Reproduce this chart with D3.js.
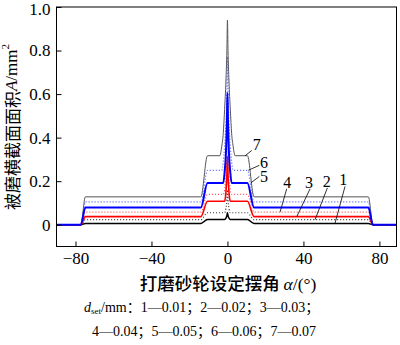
<!DOCTYPE html>
<html>
<head>
<meta charset="utf-8">
<script src="https://cdn.jsdelivr.net/npm/d3@7"></script>
<style>
  html, body { margin: 0; padding: 0; background: #fff; }
  svg { display: block; }
</style>
</head>
<body>
<svg id="chart" width="400" height="345"></svg>
<script>
// Swing angle α (°) at which each profile is sampled
const alpha = [-90, -77.2, -74.8, -14, -10.5, -4, -3, -2.2, -1.5, -0.8, -0.3, 0,
               0.3, 0.8, 1.5, 2.2, 3, 4, 10.5, 14, 74.2, 76.6, 89];

// Ground cross-section area A (mm²) for each set depth d_set
const area1 = [0, 0, .006, .006, .024, .024, .024, .024, .024, .030, .042, .055, .042, .030, .024, .024, .024, .024, .024, .006, .006, 0, 0];
const area2 = [0, 0, .023, .023, .055, .055, .055, .055, .055, .075, .115, .160, .115, .075, .055, .055, .055, .055, .055, .023, .023, 0, 0];
const area3 = [0, 0, .037, .037, .108, .108, .108, .108, .108, .150, .230, .314, .230, .150, .108, .108, .108, .108, .108, .037, .037, 0, 0];
const area4 = [0, 0, .058, .058, .139, .139, .139, .139, .160, .230, .340, .450, .340, .230, .160, .139, .139, .139, .139, .058, .058, 0, 0];
const area5 = [0, 0, .079, .079, .192, .192, .192, .192, .240, .330, .470, .605, .470, .330, .240, .192, .192, .192, .192, .079, .079, 0, 0];
const area6 = [0, 0, .105, .105, .250, .250, .250, .290, .360, .470, .620, .770, .620, .470, .360, .290, .250, .250, .250, .105, .105, 0, 0];
const area7 = [0, 0, .128, .128, .317, .317, .360, .420, .530, .660, .800, .940, .800, .660, .530, .420, .360, .317, .317, .128, .128, 0, 0];

const seriesIds = ["1", "2", "3", "4", "5", "6", "7"];
const seriesValues = [area1, area2, area3, area4, area5, area6, area7];

// Axis ticks
const xTicks = [-80, -40, 0, 40, 80];
const xTickLabels = ["\u221280", "\u221240", "0", "40", "80"];
const yTicks = [0, 0.2, 0.4, 0.6, 0.8, 1.0];
const yTickLabels = ["0", "0.2", "0.4", "0.6", "0.8", "1.0"];

// Curve number callouts: text position and leader line (data units)
const calloutText = [[61, 0.207], [52.3, 0.199], [42.9, 0.195], [31.5, 0.192], [19.3, 0.220], [19.3, 0.286], [15.4, 0.368]];
const calloutFrom = [[61.9, 0.176], [52.6, 0.169], [43.5, 0.165], [31.2, 0.165], [16.8, 0.222], [16.8, 0.273], [12.8, 0.341]];
const calloutTo   = [[56.6, 0.006], [46.1, 0.023], [36.5, 0.037], [27.7, 0.058], [12.3, 0.192], [11.0, 0.250], [9.3, 0.317]];

const style = {
  "1": { stroke: "#000000", width: 1.5, dash: null },
  "2": { stroke: "#333333", width: 1.2, dash: "1,2" },
  "3": { stroke: "#ff0000", width: 1.6, dash: null },
  "4": { stroke: "#ff5050", width: 1.2, dash: "1,2" },
  "5": { stroke: "#0000ff", width: 2.0, dash: null },
  "6": { stroke: "#4a5cff", width: 1.2, dash: "1,2" },
  "7": { stroke: "#555555", width: 1.0, dash: null }
};
const drawOrder = ["7", "6", "2", "4", "1", "3", "5"];

const serif = "'Liberation Serif', 'Times New Roman', serif";
const cjk = "'Noto Sans CJK SC', sans-serif";

const svg = d3.select("#chart");
const x = d3.scaleLinear().domain([-90, 89]).range([56.5, 396.5]);
const y = d3.scaleLinear().domain([-0.1, 1.0]).range([246.5, 7]);

// Curves
const line = d3.line()
  .x(d => x(d[0]))
  .y(d => y(d[1]))
  .curve(d3.curveMonotoneX);

const curves = svg.append("g");
drawOrder.forEach(id => {
  const i = seriesIds.indexOf(id);
  const pts = alpha.map((a, k) => [a, seriesValues[i][k]]);
  const s = style[id];
  curves.append("path")
    .attr("d", line(pts))
    .attr("fill", "none")
    .attr("stroke", s.stroke)
    .attr("stroke-width", s.width)
    .attr("stroke-dasharray", s.dash);
});

// Frame
svg.append("rect")
  .attr("x", x(-90)).attr("y", y(1.0))
  .attr("width", x(89) - x(-90)).attr("height", y(-0.1) - y(1.0))
  .attr("fill", "none").attr("stroke", "#000").attr("stroke-width", 1);

// Axes with inward ticks
const xAxis = d3.axisBottom(x).tickValues(xTicks)
  .tickFormat((d, i) => xTickLabels[i]).tickSize(-5).tickPadding(5);
const yAxis = d3.axisLeft(y).tickValues(yTicks)
  .tickFormat((d, i) => yTickLabels[i]).tickSize(-5).tickPadding(6);

const gx = svg.append("g").attr("transform", `translate(0,${y(-0.1)})`).call(xAxis);
const gy = svg.append("g").attr("transform", `translate(${x(-90)},0)`).call(yAxis);
[gx, gy].forEach(g => {
  g.select(".domain").remove();
  g.selectAll(".tick line").attr("stroke", "#000");
  g.selectAll(".tick text").attr("fill", "#000")
    .style("font-family", serif).style("font-size", "17px");
});
// keep the top label inside the canvas
gy.selectAll(".tick text").filter(d => d === 1.0).attr("dy", "0.36em").attr("y", 1);

// Callouts
const callouts = svg.append("g");
seriesIds.forEach((id, i) => {
  callouts.append("line")
    .attr("x1", x(calloutFrom[i][0])).attr("y1", y(calloutFrom[i][1]))
    .attr("x2", x(calloutTo[i][0])).attr("y2", y(calloutTo[i][1]))
    .attr("stroke", "#000").attr("stroke-width", 0.8);
  callouts.append("text")
    .attr("x", x(calloutText[i][0])).attr("y", y(calloutText[i][1]))
    .attr("text-anchor", "middle").attr("dominant-baseline", "central")
    .style("font-family", serif).style("font-size", "16px")
    .text(id);
});

// Y axis title
const yt = svg.append("text")
  .attr("transform", "translate(11,127) rotate(-90)")
  .attr("text-anchor", "middle").attr("dominant-baseline", "central")
  .style("font-size", "17px");
yt.append("tspan").style("font-family", cjk).text("被磨横截面面积");
yt.append("tspan").style("font-family", serif).style("font-style", "italic").text("A");
yt.append("tspan").style("font-family", serif).text("/mm");
yt.append("tspan").style("font-family", serif).style("font-size", "11px").attr("dy", "-0.55em").text("2");

// X axis title
const xt = svg.append("text")
  .attr("x", 228).attr("y", 290)
  .attr("text-anchor", "middle")
  .style("font-size", "17.5px");
xt.append("tspan").style("font-family", cjk).style("font-weight", 500).text("打磨砂轮设定摆角 ");
xt.append("tspan").style("font-family", serif).style("font-style", "italic").text("α");
xt.append("tspan").style("font-family", serif).text("/(°)");

// Legend text
const legendFont = `${serif.replace(", serif", "")}, 'Noto Sans CJK SC', serif`;
const l1 = svg.append("text").attr("x", 84).attr("y", 312)
  .style("font-family", legendFont).style("font-size", "14px");
l1.append("tspan").style("font-style", "italic").text("d");
l1.append("tspan").style("font-size", "9px").attr("dy", "2").text("set");
l1.append("tspan").attr("dy", "-2").text("/mm：1—0.01；2—0.02；3—0.03；");

svg.append("text").attr("x", 92).attr("y", 336)
  .style("font-family", legendFont).style("font-size", "14px")
  .text("4—0.04；5—0.05；6—0.06；7—0.07");
</script>
</body>
</html>
